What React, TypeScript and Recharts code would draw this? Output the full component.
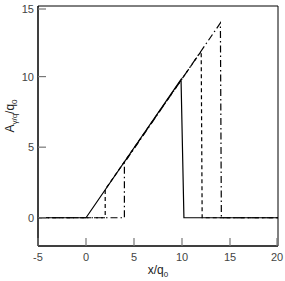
import React from "react";
import { LineChart, Line, XAxis, YAxis, ReferenceArea } from "recharts";

const solidX = [-5, 0, 9.9, 10.2, 20];
const solidY = [0, 0, 9.8, 0, 0];
const dashX = [-5, 2, 2, 12, 12.1, 20];
const dashY = [0, 0, 2, 11.8, 0, 0];
const dotDashX = [-5, 4, 4, 14, 14.1, 20];
const dotDashY = [0, 0, 3.9, 13.8, 0, 0];
const xTicks = [-5, 0, 5, 10, 15, 20];
const yTicks = [0, 5, 10, 15];

const toPoints = (xs: number[], ys: number[]) => xs.map((x, i) => ({ x, y: ys[i] }));
const solidData = toPoints(solidX, solidY);
const dashData = toPoints(dashX, dashY);
const dotDashData = toPoints(dotDashX, dotDashY);

const font = "'Liberation Sans', Arial, sans-serif";

const XTick = (props: any) => {
    const { x, y, payload } = props;
    return (
        <g>
            <line x1={x} y1={y} x2={x} y2={y - 8} stroke="#777" strokeWidth={1.2} />
            <text x={x} y={y + 15} textAnchor="middle" fontSize={11} fill="#444" fontFamily={font}>
                {payload.value}
            </text>
        </g>
    );
};

const YTick = (props: any) => {
    const { x, y, payload } = props;
    return (
        <g>
            <line x1={x} y1={y} x2={x + 8} y2={y} stroke="#777" strokeWidth={1.2} />
            <text x={x - 4} y={y + 4} textAnchor="end" fontSize={11} fill="#444" fontFamily={font}>
                {payload.value}
            </text>
        </g>
    );
};

const YTitle = () => (
    <text transform="translate(14,116) rotate(-90)" textAnchor="middle" fontSize={12} fill="#222" fontFamily={font}>
        A<tspan fontSize={8} dy={3}>γ/q</tspan>
        <tspan dy={-3}>/q</tspan>
        <tspan fontSize={8} dy={3}>0</tspan>
    </text>
);

const XTitle = () => (
    <text x={158} y={274} textAnchor="middle" fontSize={12} fill="#222" fontFamily={font}>
        x/q<tspan fontSize={8} dy={3}>0</tspan>
    </text>
);

export default function App() {
    return (
        <div style={{ position: "absolute", left: 0, top: 0, background: "#fff" }}>
            <LineChart width={285} height={281} margin={{ top: 6, right: 7, left: 0, bottom: 0 }}>
                <XAxis
                    dataKey="x"
                    type="number"
                    domain={[-5, 20]}
                    ticks={xTicks}
                    height={35}
                    tickSize={0}
                    tickMargin={0}
                    tickLine={false}
                    tick={<XTick />}
                    axisLine={{ stroke: "#000" }}
                    allowDataOverflow
                    label={{ content: () => <XTitle /> }}
                />
                <YAxis
                    type="number"
                    domain={[-2, 15]}
                    ticks={yTicks}
                    width={38}
                    tickSize={0}
                    tickMargin={0}
                    tickLine={false}
                    tick={<YTick />}
                    axisLine={{ stroke: "#000" }}
                    allowDataOverflow
                    label={{ content: () => <YTitle /> }}
                />
                <ReferenceArea x1={-5} x2={20} y1={-2} y2={15} fill="none" stroke="#000" strokeWidth={1} />
                <Line data={solidData} dataKey="y" type="linear" stroke="#000" strokeWidth={1.2} dot={false} isAnimationActive={false} />
                <Line data={dashData} dataKey="y" type="linear" stroke="#000" strokeWidth={1.2} strokeDasharray="4 3" dot={false} isAnimationActive={false} />
                <Line data={dotDashData} dataKey="y" type="linear" stroke="#000" strokeWidth={1.2} strokeDasharray="7 3 1.5 3" dot={false} isAnimationActive={false} />
            </LineChart>
        </div>
    );
}
